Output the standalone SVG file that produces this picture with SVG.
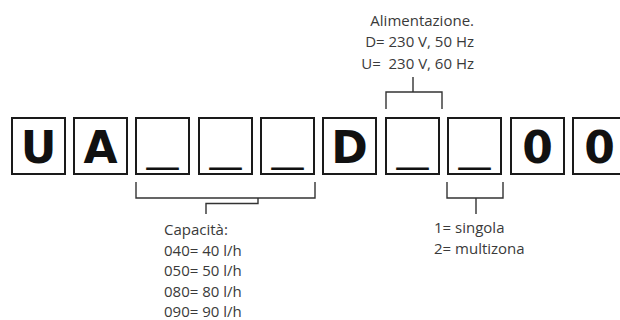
<svg xmlns="http://www.w3.org/2000/svg" width="620" height="320" viewBox="0 0 620 320">
<style>
.box rect{fill:#fff;stroke:#1a1a1a;stroke-width:2}
.box text{font-family:"DejaVu Sans","Verdana",sans-serif;font-weight:bold;font-size:44px;fill:#111;text-anchor:middle}
.box text.us{font-size:36px;font-weight:normal}
.lbl{font-family:"Open Sans","Noto Sans",sans-serif;font-size:15px;fill:#3a3a3a}
.conn path{fill:none;stroke:#333;stroke-width:1.4}
</style>
<rect width="620" height="320" fill="#fff"/>
<g id="box1" class="box"><rect x="12" y="118" width="53" height="56"/><text x="38.5" y="163">U</text></g>
<g id="box2" class="box"><rect x="74" y="118" width="53" height="56"/><text x="100.5" y="163">A</text></g>
<g id="box3" class="box"><rect x="136" y="118" width="53" height="56"/><text class="us" transform="translate(162.5,161.5) scale(1.75,1)">_</text></g>
<g id="box4" class="box"><rect x="199" y="118" width="53" height="56"/><text class="us" transform="translate(225.5,161.5) scale(1.75,1)">_</text></g>
<g id="box5" class="box"><rect x="261" y="118" width="53" height="56"/><text class="us" transform="translate(287.5,161.5) scale(1.75,1)">_</text></g>
<g id="box6" class="box"><rect x="323" y="118" width="53" height="56"/><text x="349.5" y="163">D</text></g>
<g id="box7" class="box"><rect x="386" y="118" width="53" height="56"/><text class="us" transform="translate(412.5,161.5) scale(1.75,1)">_</text></g>
<g id="box8" class="box"><rect x="448" y="118" width="53" height="56"/><text class="us" transform="translate(474.5,161.5) scale(1.75,1)">_</text></g>
<g id="box9" class="box"><rect x="511" y="118" width="53" height="56"/><text x="537.5" y="163">0</text></g>
<g id="box10" class="box"><rect x="573" y="118" width="53" height="56"/><text x="599.5" y="163">0</text></g>
<g id="connectors" class="conn">
<path d="M136,182 V198 H315 V182 M258,198 V203.5 H206 V214"/>
<path d="M386,109 V92 H442 V109 M413,92 V77"/>
<path d="M447,182 V198 H503 V182 M476,198 V214"/>
</g>
<g id="label-alimentazione" class="lbl" text-anchor="end">
<text x="474" y="25.5">Alimentazione.</text>
<text x="474" y="47">D= 230 V, 50 Hz</text>
<text x="474" y="68.5" xml:space="preserve">U=  230 V, 60 Hz</text>
</g>
<g id="label-capacita" class="lbl">
<text x="164" y="235">Capacità:</text>
<text x="164" y="255.5">040= 40 l/h</text>
<text x="164" y="276">050= 50 l/h</text>
<text x="164" y="296.5">080= 80 l/h</text>
<text x="164" y="317">090= 90 l/h</text>
</g>
<g id="label-zona" class="lbl">
<text x="434" y="233">1= singola</text>
<text x="434" y="254">2= multizona</text>
</g>
</svg>
